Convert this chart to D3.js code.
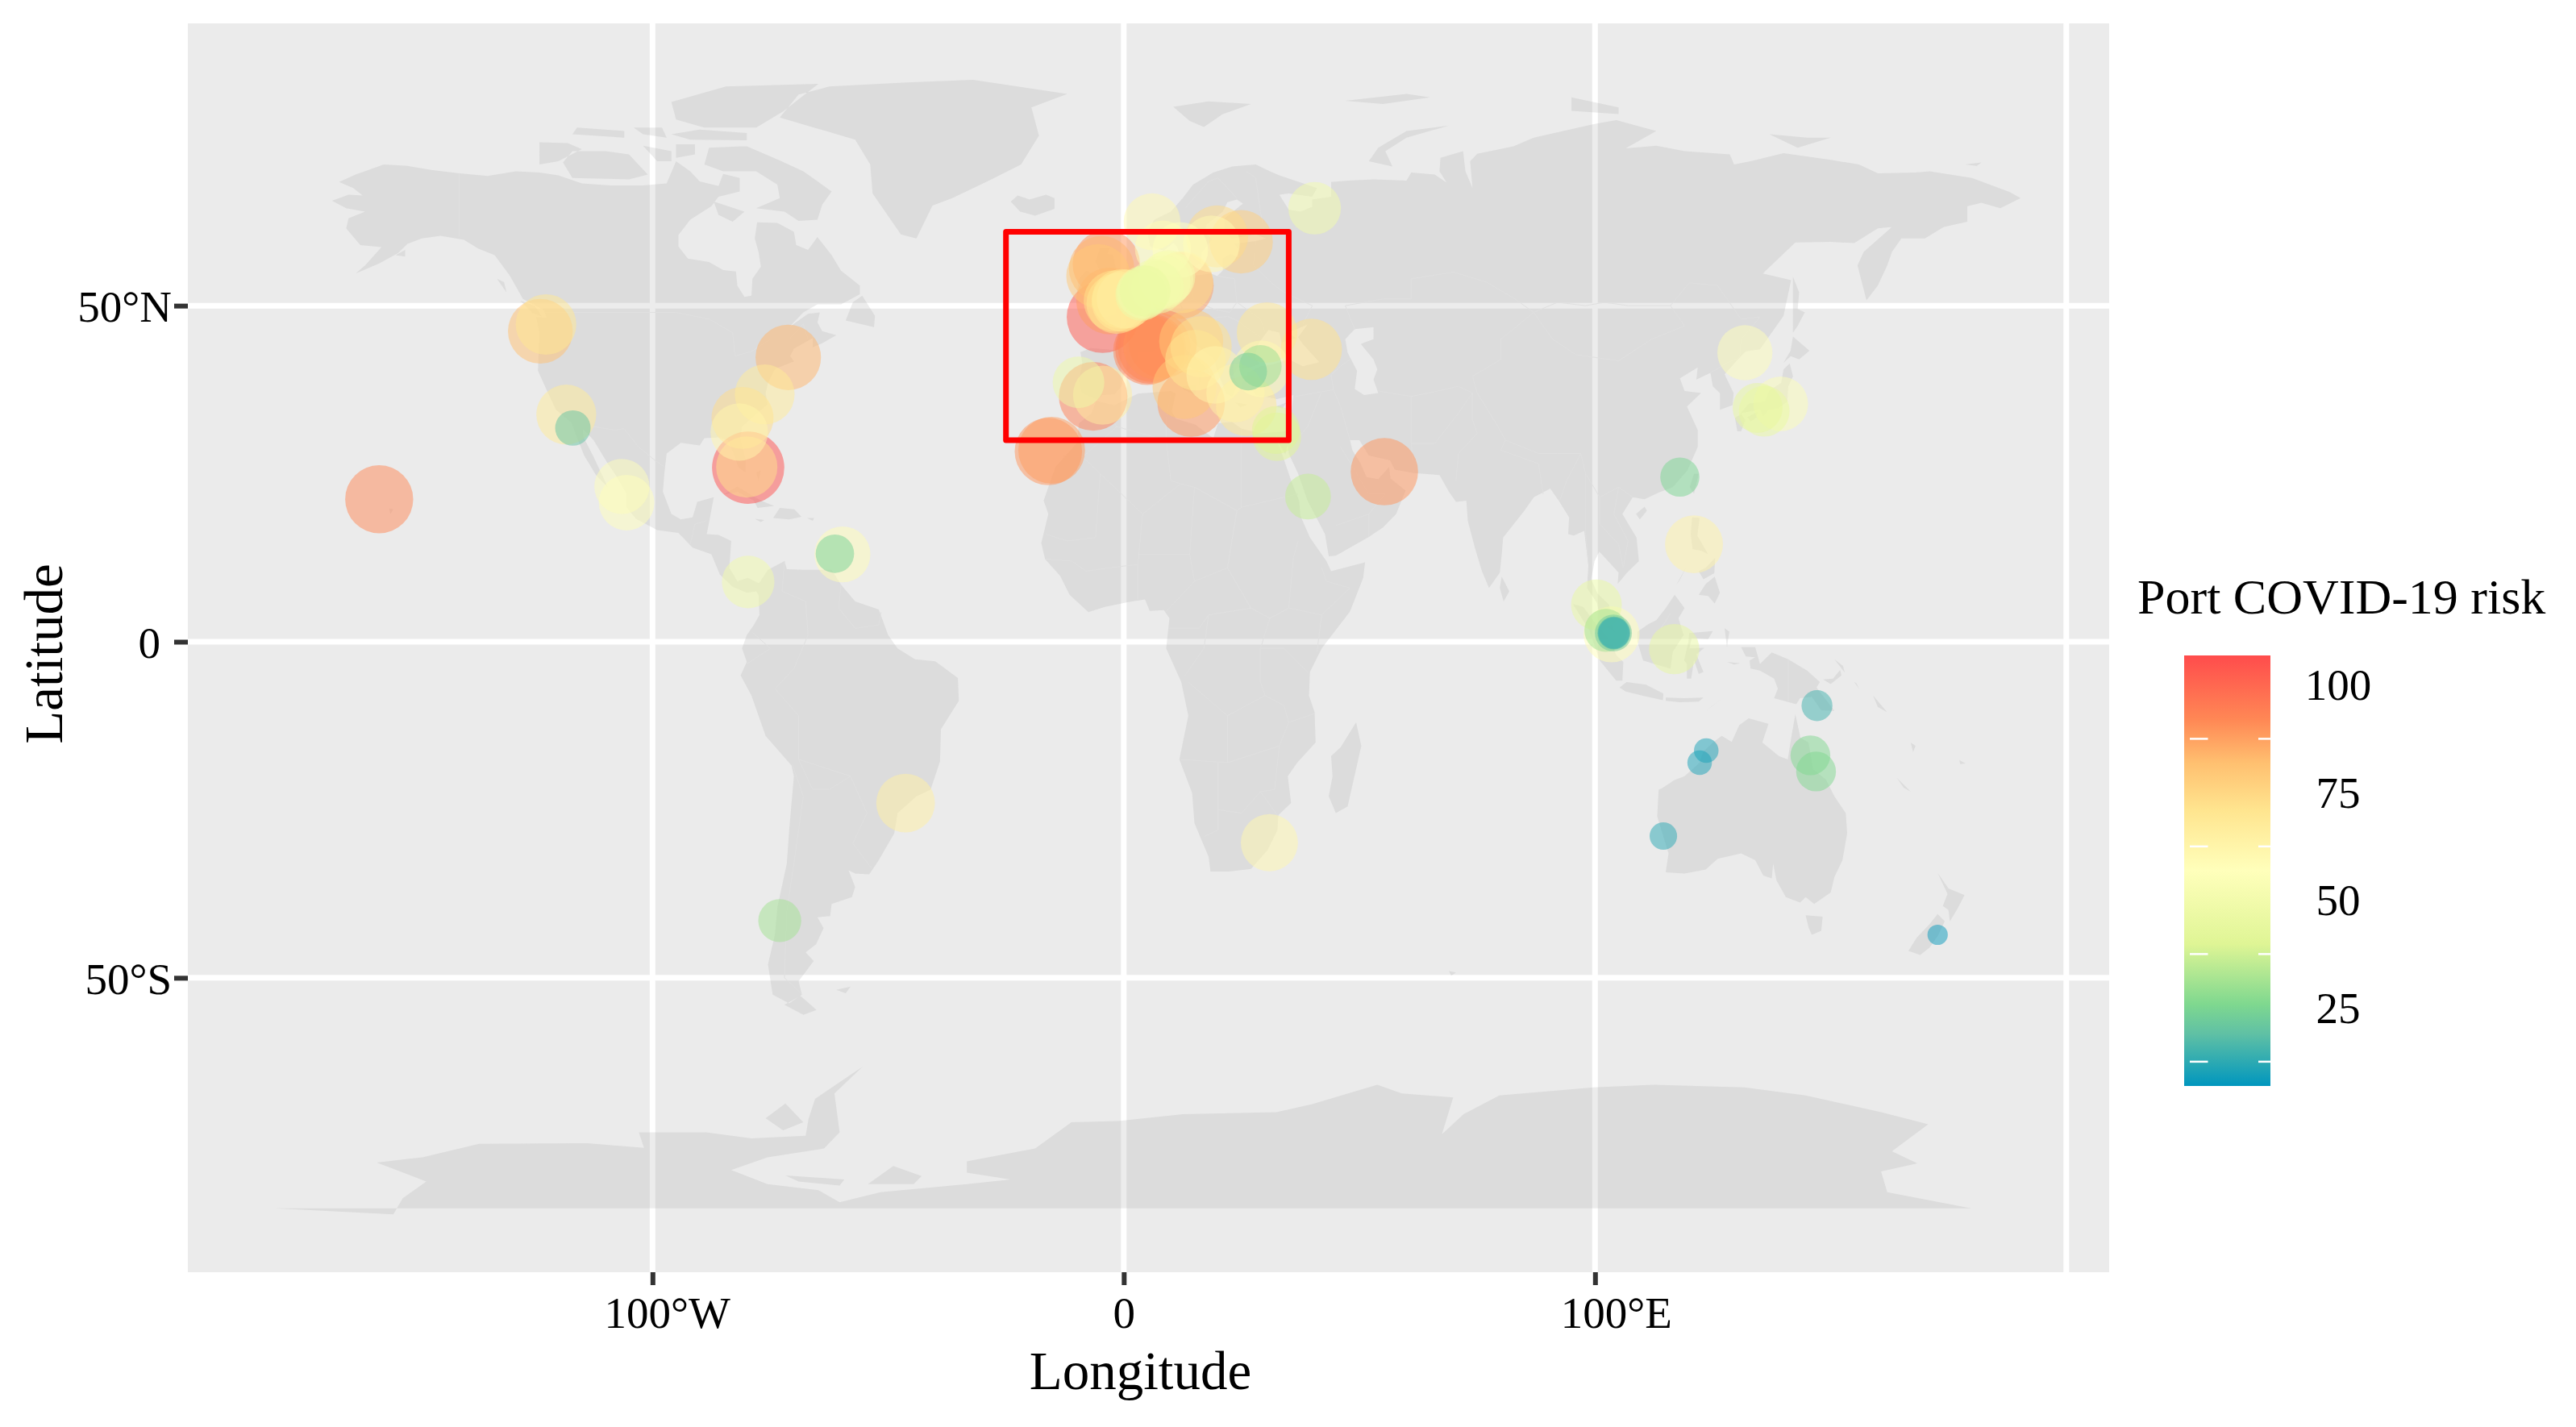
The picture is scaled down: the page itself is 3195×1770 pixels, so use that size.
<!DOCTYPE html>
<html lang="en">
<head>
  <meta charset="UTF-8">
  <title>Port COVID-19 risk</title>
  <style>
    html, body { margin: 0; padding: 0; background: #fff; }
    svg { display: block; }
    text { font-family: "Liberation Serif", serif; fill: #000; }
  </style>
</head>
<body>
  <svg id="chart"></svg>
  <script src="https://d3js.org/d3.v7.min.js"></script>
  <script>
    var portLon = [-79.7,-4.5,5.5,-6.5,8.3,-158,-16,14.3,-3,12,-15.3,55.3,-3.7,-71.2,-4.7,-123.8,-5.4,14.3,12.9,24.9,19.8,12.4,-80.9,-80,39.8,16.4,-2,-122.6,30.4,15.2,26,-118.3,-76.2,-4.5,-0.4,-46.3,23.7,121,19.4,-81.6,30.9,6,29.2,18.6,-59.7,8.3,12,-105.5,-106.5,131.8,139.4,9.5,103.5,4.3,7.2,-79.7,40.5,-9.6,100.3,135.9,116.8,134.5,32.5,39.1,-73,29,102.3,145.7,146.9,118,-61.3,26.4,-116.9,103.9,147.1,114.5,123.6,122.2,172.7,-1.5,-0.5,0.5,4,3.7,4.5,8.5,9,6.5,6,7,5,104,104,104,32.3];
    var portLat = [25.9,48.3,43.5,36.5,44.3,21.2,28.3,35.5,50.7,53,28.5,25.3,56.2,42.3,55.5,46.2,54.4,44.7,37.9,59.5,60.3,53.5,33.3,26,43.5,43.9,50.7,47.2,46,41.9,35.1,33.8,36.8,36.7,51,-24,37,14.5,39.7,31.2,-29.9,62.5,40.6,59.2,13,58.5,58.3,20.7,23.1,43,35.4,54.3,1.1,51.9,52.7,8.9,64.5,38.6,5.5,34.3,-1.1,34.8,30.5,21.6,-41.5,41,1.7,-16.9,-19.3,24.5,13.1,40.2,31.8,1.3,-9.5,-28.9,-16.2,-18,-43.6,50.3,50.6,51,52,51.6,52.2,53.5,54,53,43.7,44,43.3,1.3,1.3,1.3,31.5];
    var portRisk = [106,104,95,94,92,92,90,90,88,88,88,90,90,84,84,82,80,80,80,78,74,74,74,72,72,72,72,70,70,70,70,68,68,66,68,65,64,63,62,62,61,60,60,60,58,58,57,57,56,56,55,52,58,50,50,50,50,48,46,46,45,44,41,36,31,30,31,26,26,25,24,23,20,22,15,12,10,10,8,70,68,66,50,48,46,52,54,50,92,90,93,17,16,15,40];

    var lonTicks = [-100, 0, 100];
    var lonLabels = ["100°W", "0", "100°E"];
    var latTicks = [-50, 0, 50];
    var latLabels = ["50°S", "0", "50°N"];
    var lonGrid = [-100, 0, 100, 200];

    var legendTicks = [25, 50, 75, 100];
    var colorValues = [7, 19, 26, 40, 57, 71, 82, 92, 107];
    var colorHex = ["#0096be", "#5fc0a5", "#7fd88f", "#dff595", "#ffffbb", "#ffe58f", "#ffc070", "#ff8855", "#ff4c4c"];

    // the red box around Europe
    var boxLon = [-25, 35];
    var boxLat = [30, 61];

    // land outlines as [lon, lat], rough tracing of the world map
    var northAmerica = [[-168,65.6],[-164.5,66.5],[-161.5,66.4],[-163.5,67.5],[-166.5,68.4],[-163,69.5],[-157,71],[-152,70.8],[-147,70.2],[-141,69.7],[-135,69.3],[-129,70],[-124,69.8],[-120,69.4],[-115,68.2],[-109,67.9],[-102,67.9],[-97,68.2],[-95,71.5],[-92,70],[-90,68.5],[-86,67.8],[-85,69.6],[-81.5,69],[-81.5,67],[-86,66.2],[-87.5,64.8],[-92,62.8],[-94.5,60.5],[-94.5,58.8],[-92.5,57],[-88,56.5],[-85,55.3],[-82.3,55.1],[-82,53],[-80.5,51.3],[-79,51.5],[-78.8,54],[-77,55.8],[-77.5,58],[-78.3,60],[-77.8,62.4],[-73.5,62.3],[-70,61],[-69.5,59],[-67,58.3],[-65,60.2],[-62,57.5],[-60,55.2],[-56,53],[-56,51.7],[-60,50.2],[-65,50.2],[-68,49],[-71,46.8],[-67,48.8],[-64.5,49],[-65,47.5],[-64,46.2],[-61,45.6],[-64,44.4],[-66,43.8],[-66,45.2],[-67.5,44.6],[-70,43.6],[-70.8,42.5],[-70,41.7],[-74,40.6],[-75.5,38.5],[-76,37],[-75.6,35.3],[-78,33.9],[-81,32],[-81.4,30.4],[-80.2,27],[-80.3,25.2],[-81.8,26],[-82.8,28],[-84,30],[-86,30.4],[-89,30.3],[-90,29.2],[-94,29.6],[-97,28],[-97.5,25],[-97.8,22.3],[-96,19],[-94,18.2],[-91.5,18.5],[-90.5,20.8],[-87,21.5],[-87.8,18.5],[-88.5,16],[-86,15.9],[-83.3,15],[-83.7,11],[-82,9],[-79.8,9.5],[-77.4,8.7],[-78,7.5],[-80,7.3],[-83,8.2],[-85.7,10],[-87.5,13],[-91.5,14],[-94.5,16.2],[-99,16.6],[-103.5,18.3],[-105.5,20],[-105.5,22],[-108,25],[-109.5,26.5],[-112.5,30],[-114.8,31.7],[-114.7,30.5],[-112.5,27.5],[-110.5,24.5],[-109.5,23],[-112,24.8],[-114.5,27.7],[-115.8,30],[-117.2,32.6],[-120.5,34.5],[-122.5,37.5],[-124.3,40.3],[-124,46],[-124.7,48.3],[-122.5,48.2],[-123,49.3],[-127.5,51],[-130.3,54.5],[-133.5,57.5],[-137,58.5],[-140,59.8],[-145,60.4],[-149,60],[-152,59.2],[-154,57.8],[-158,56.3],[-163,54.8],[-161,56],[-157.5,58.7],[-162,59],[-165,61.5],[-164.5,63],[-161,64],[-165,64.5]];
    var southAmerica = [[-77.4,8.7],[-75.5,10.7],[-72,12],[-71.5,10.8],[-68,10.7],[-62,10.7],[-60,8.5],[-57,6],[-52,4.8],[-50,1],[-48,-1],[-44.3,-2.6],[-40,-2.9],[-35.2,-5.4],[-35,-8.8],[-38.8,-13],[-39,-17.8],[-41,-22],[-44,-23],[-48,-25.5],[-48.7,-28.5],[-52,-32.5],[-54,-34.6],[-57,-34.5],[-58.4,-34],[-57,-36.5],[-57.7,-38],[-62,-39],[-62.3,-40.8],[-65,-41],[-63.7,-42.6],[-65.3,-45],[-67.5,-46.2],[-65.8,-47.5],[-69,-50.5],[-68.3,-52.5],[-71,-53.8],[-74.5,-52.5],[-75.5,-48],[-74,-43.5],[-73.5,-39.5],[-71.5,-33],[-71,-28],[-70,-20],[-70.5,-18.4],[-76,-14],[-79,-8],[-81.3,-5],[-80,-3],[-81,-1],[-80,1],[-78.5,2.5],[-77.3,4],[-77.5,7],[-78,7.5]];
    var eurasia = [[-5.6,36],[-8.9,37],[-9.5,38.8],[-8.8,41.5],[-9.2,43.1],[-7,43.7],[-1.8,43.4],[-1.2,45.5],[-2.5,47.3],[-4.7,48.2],[-1.5,48.7],[-1.8,49.7],[0.2,49.6],[1.6,50.8],[3.5,51.4],[4.7,52.9],[7,53.4],[8.8,54],[8.2,55.5],[8.2,57],[10.6,57.7],[10.3,56],[9.8,54.8],[11,54],[13.5,54.3],[18.5,54.8],[19.8,54.4],[21,55.2],[21,57],[22.6,57.7],[24.3,57.2],[24.3,58.4],[23.5,59.2],[28,59.6],[30.2,60],[28,60.6],[23,60],[21.3,60.8],[21.4,63],[25.3,65.2],[24,65.8],[22,65.4],[21,64],[17.5,62],[17.3,60.7],[18.8,59.9],[16.6,58],[16.3,56.3],[14.3,55.5],[12.8,55.5],[12.4,56.5],[11.3,58.8],[10.5,59.3],[8.5,58.2],[5.6,58.8],[5,61],[6.5,62.8],[10,64],[12.5,66],[14.7,68],[19,69.8],[23,70.7],[28,71],[31,70],[33,69.4],[41,67.5],[40,66.2],[35,66.7],[33,66.5],[35,64.3],[37.5,64],[40,64.7],[40,65.8],[44,66.2],[44,68.4],[47.7,68.6],[53,68.8],[60,68.6],[61,69.8],[66,69.5],[68.5,68.3],[67,70],[67.2,72],[72,73],[72.5,70],[74,67.5],[73.5,71.5],[75,72.6],[82.7,73.7],[87,75],[99.7,77],[104.5,77.6],[113,76],[106.5,73.4],[113,73.8],[119,73],[128.6,72.5],[129.5,71],[133,71.5],[140,72.7],[150,71.7],[156,71],[160,69.7],[168,69.8],[171,70],[180,69],[188,66.9],[190.3,66],[186,64.5],[182,65.3],[179,64.8],[179,62.5],[174,61.7],[170,60],[165,60],[163,58],[162,56],[160,53],[157.6,50.8],[155.7,56],[157,58],[163,61.7],[160,61.5],[155,59.3],[150,59.5],[142.5,59.4],[135.6,54.8],[141.6,53.8],[140,48.5],[135,43.5],[132,43.2],[130.7,42.3],[127.5,39.8],[129.4,37],[129.2,35.2],[126.5,34.5],[126.5,37],[125,38],[124.5,40],[121.5,39],[121.8,40.8],[118,39.2],[119,37.3],[122.5,37],[119.5,35],[121.8,31.5],[121.8,29],[119.6,25.5],[116.5,23],[113.5,22.2],[110.5,21.2],[108,21.5],[105.8,19],[108.8,15.5],[109.3,12],[106.8,10.3],[104.8,8.6],[105,10.3],[102.5,12.2],[100.9,13.4],[99.9,12],[99.2,9.3],[100.5,7.2],[103,5.5],[103.4,2.8],[104.2,1.4],[101.3,2.9],[100.4,5.8],[98.3,8],[98.6,11.5],[97.7,16.5],[95.5,15.8],[94.3,16],[94.5,18.5],[92.3,21],[90.5,22.8],[87,21.5],[85,19.5],[80.5,15.5],[80.2,13],[79.8,10.3],[77.5,8],[76,10.5],[74.5,14],[73,18],[72.7,21],[70.5,20.8],[69,22.3],[67,24.8],[61.5,25.1],[57.5,25.6],[56.5,27],[52,27.7],[50,30],[48,30],[48.5,28.5],[50.2,26.6],[51.5,24.5],[54,24.2],[56.3,26],[56.6,24.3],[59.8,22.5],[57.8,19],[55,17],[52,15.6],[45,12.8],[43.5,12.7],[42.7,16],[39,21],[37,25],[35,28],[34.8,29.5],[34.3,27.9],[32.6,29.9],[32.3,31.2],[34.3,31.3],[35.5,33.5],[36,36.7],[32.5,36.1],[30.5,36.4],[28,36.7],[26.4,38.5],[26.3,40],[29,41],[31.3,41.2],[35,42],[38,41],[41.5,41.6],[38,44.3],[37,45.3],[39,47.2],[35,46],[36.5,45.2],[33.5,44.5],[33,46],[30.7,46.4],[28.7,44.5],[27.7,42.5],[28.8,41.3],[26.2,40.7],[24,40.8],[23.5,39.9],[22.8,39.5],[24,38],[23,36.5],[21.7,36.9],[19.5,41],[19.3,42],[15.2,44.2],[13.7,45.6],[12.3,45.3],[12.5,44],[16,41.8],[18.4,40],[16.7,39.8],[16,38],[15.8,40],[12.2,41.8],[10.2,43.8],[8.5,44.3],[6,43.1],[3.1,43.1],[3,41.8],[0,39.8],[-0.5,38],[-2,36.8],[-4.5,36.7]];
    var africa = [[-5.9,35.8],[-2,35.2],[3,36.9],[10,37.3],[11,36.9],[10.2,34.3],[11,33.2],[15.2,32.3],[19,30.3],[20,32.5],[23,32.7],[25,31.7],[29,31],[32.3,31.2],[32.5,29.9],[33.8,27.5],[35.5,24],[37.2,21],[37.5,18.7],[39.5,15.5],[43,12],[44,10.5],[51.2,11.8],[50.8,9.5],[48,4.5],[42,-1],[39.5,-4.5],[39.3,-8],[40.5,-10.5],[40.7,-15],[36.8,-18],[34.8,-20],[35.5,-24],[32.8,-25.8],[32.6,-28],[30.5,-31],[27,-33.8],[22,-34.2],[18.4,-34.2],[18,-32],[15,-27],[14.5,-22.5],[11.8,-17.5],[13.7,-11],[12.2,-6],[9,-1],[9.7,3.5],[8.5,4.7],[5.5,4.6],[4.5,6.3],[1,5.9],[-4,5.2],[-7.5,4.4],[-11.5,7],[-13.5,9.8],[-16.7,12.3],[-17.5,14.7],[-16,19],[-17,21],[-14.5,26],[-10,29.5],[-9.5,32.5],[-6.8,34]];
    var australia = [[113.5,-22],[114.2,-21.8],[116.8,-20.6],[119,-20],[122.2,-18],[122.9,-16.4],[125,-15],[126.9,-14],[129,-14.9],[130.6,-12.4],[132.6,-11.4],[136.8,-12.2],[135.5,-15],[139,-17],[140.9,-17.5],[141.7,-14],[142.5,-10.8],[143.6,-14.3],[145.3,-15],[146.3,-19],[149,-20.5],[150.8,-23],[153.2,-25.5],[153.5,-28.5],[152.5,-32.5],[150.8,-35],[150,-37.3],[146.5,-39],[144.7,-38],[143.5,-38.8],[140.5,-38],[138.5,-35.5],[137.8,-33],[137.5,-35.2],[135.7,-34.8],[134,-32.5],[131,-31.5],[126,-32.3],[123.5,-33.9],[119,-34.5],[115,-34.3],[115.6,-31.5],[113.2,-26]];
    var antarctica = [[-180,-84.3],[-155,-85.2],[-153,-82.8],[-148,-80.3],[-158.5,-77.5],[-148.8,-76.7],[-136.8,-74.7],[-113.9,-74.6],[-101.8,-75.3],[-102.9,-73],[-88.7,-73],[-79,-73.9],[-67.5,-73.5],[-66.9,-71],[-65.5,-68],[-55.4,-63.2],[-61.4,-67.2],[-60.3,-73],[-63.6,-75.4],[-75.6,-76.7],[-83.3,-78.6],[-75.6,-80.7],[-64.8,-81.6],[-60.3,-83.4],[-51.6,-81.9],[-33.3,-80.7],[-24,-80],[-33.3,-79],[-33.3,-77.3],[-18.8,-75.4],[-11.1,-71.5],[-1.2,-71.3],[12.6,-70.3],[32.4,-70],[40,-68.8],[53.8,-65.9],[59,-67.2],[69.9,-67.8],[67.5,-73.3],[72.1,-70.3],[79.7,-67.5],[99.7,-66.3],[112.6,-65.9],[131.7,-66.3],[144.7,-67.5],[160.7,-70],[170.7,-71.8],[163,-75.8],[168.4,-77.6],[160.7,-78.8],[162,-81.9],[179.8,-84.3]];
    var greenland = [[-46,83.2],[-32,83.6],[-12,81.5],[-19.6,79.5],[-18,75.3],[-21.8,71],[-28.6,68.6],[-36.4,66],[-40.6,64.9],[-44,60],[-47.3,60.6],[-53.3,66.7],[-53.8,71],[-57,74.7],[-73,78],[-69,81.4],[-62.5,82.6]];
    var caspian = [[49,46.5],[53,46.8],[53,45],[51,44.5],[50.3,44.3],[53,42],[53.8,40.5],[53,39],[54,37],[51,36.7],[49,37.6],[49.5,40.3],[47.5,43],[47,45]];
    var islands = [
      [[-80,73.7],[-73,71.6],[-68,70],[-62,67],[-64,65],[-65,62.8],[-69,62.6],[-72,64],[-78,64.5],[-73,66],[-73.5,68],[-78,70],[-85,70],[-89,71],[-88,73.5],[-81,73.7]],
      [[-96,80.3],[-84.4,82.6],[-64.8,83],[-72.3,78.9],[-78,76.5],[-89,76.5],[-95,77.7]],
      [[-96,75.5],[-92,74.7],[-80,74.6],[-80,75.7],[-90,76.2]],
      [[-117,69],[-105,68.8],[-101,69.5],[-105,72.5],[-110,73],[-117,73],[-119,71.3]],
      [[-124,74.3],[-118,74.2],[-115,73.3],[-120,71.5],[-124,71]],
      [[-117,75.5],[-106,75],[-106,76],[-116,76.5]],
      [[-102,73.8],[-96,73],[-96,71.5],[-99,71.5]],
      [[-95,74],[-91,74],[-91,72.5],[-95,72]],
      [[-104,76.5],[-98,76.5],[-97,75],[-102,75.5]],
      [[-87,65.5],[-80.5,64],[-83,62.5],[-86,63.5]],
      [[-59,47.8],[-53,46.8],[-52.8,48.5],[-55.5,51.5],[-57.5,50.5]],
      [[-128,50.7],[-125,50],[-123.5,48.4],[-125.5,48.9]],
      [[-133,54],[-131.5,53.5],[-131,52]],
      [[-154.5,57.5],[-152.5,57.3],[-152.5,58.3]],
      [[-155.9,19.8],[-155,19.7],[-155.6,19]],
      [[-85,21.9],[-82,23.1],[-77,21],[-74.2,20.2],[-77.7,19.9],[-78.5,21],[-82,22.3]],
      [[-74.4,18.4],[-73,19.9],[-69.9,19.7],[-68.4,18.6],[-71,18.2]],
      [[-78.3,18.3],[-76.3,18.1],[-77,17.8]],
      [[-67.2,18.4],[-65.7,18.4],[-66,18]],
      [[-78,25.2],[-77.5,24],[-77,25.5]],
      [[-68.6,-52.7],[-65.2,-54.8],[-68,-55.5],[-72,-54]],
      [[-61,-51.8],[-58,-51.3],[-59,-52.3]],
      [[-5.7,50.1],[-3,50.7],[1.3,51.2],[1.7,52.7],[0,53.3],[-1.7,55.5],[-2.2,57.5],[-3.5,57.7],[-3,58.6],[-5,58.6],[-6,56.6],[-5,55],[-3,54.5],[-3,53.3],[-4.5,53],[-4.5,52],[-5.2,51.8],[-3,51.3],[-5,51]],
      [[-6,52.2],[-10,51.7],[-9.5,54],[-8,55.2],[-5.7,54.6]],
      [[-24,65.5],[-22,64],[-18.8,63.4],[-14.7,64.4],[-14.7,66],[-16.5,66.5],[-20,65.8],[-22.5,66.4]],
      [[11,55.7],[12.5,56],[12.3,55],[11,55]],
      [[12.5,38],[15.6,38.2],[15.1,36.7],[12.5,37.6]],
      [[8.2,41],[9.7,41],[9.6,39.2],[8.5,39]],
      [[8.6,42.5],[9.5,43],[9.4,41.4]],
      [[23.6,35.6],[26.3,35.3],[24.8,34.9]],
      [[32.3,35],[34.5,35.6],[33.7,34.7]],
      [[10.5,79.6],[14,77.5],[17,76.6],[21,78.5],[27,80],[18,80.4]],
      [[52,71.5],[57,70.7],[55.5,73],[60,75],[69,76.8],[60,76],[54,73.5]],
      [[47,80.5],[60,81.5],[65,81],[55,80]],
      [[95,79],[105,78.5],[105,79.5],[95,81]],
      [[137,75.5],[145,75],[150,75],[143,73.5]],
      [[178.5,71],[182,71.3],[181,70.8]],
      [[142,54.3],[143.3,52],[143,49.5],[144.5,49],[143,47],[142,46],[142,50]],
      [[140,41.5],[141.5,42.5],[143.3,42],[145.5,43.3],[142,45.4],[141.5,43.3]],
      [[130.9,34],[132.6,35.4],[136,35.7],[137,37.4],[139.5,38.5],[140,40.5],[141.3,41.4],[142,39.5],[141,38],[140.8,35.7],[138.8,34.7],[136.8,34.5],[135.7,33.5],[135,34.6],[132.5,34.2]],
      [[132.3,33.4],[134.5,34.2],[134.2,33.3],[133,32.8]],
      [[129.7,33.3],[131,33.9],[131.9,33],[131,31.3],[130.2,31.3]],
      [[120.1,23],[121,25],[122,25],[121,22]],
      [[108.7,19],[110.5,20.1],[111,19.5],[109.5,18.2]],
      [[79.8,8],[80.2,9.7],[81.8,7.5],[80.6,6]],
      [[120.3,16],[120.6,18.5],[122.2,18.4],[121.7,15.8],[124,13],[122.7,13.5],[120.7,13.8]],
      [[122,7],[123.5,8.6],[125.4,9.7],[126.5,7.3],[125.4,5.7],[124,6.8]],
      [[122,10.5],[123.5,11],[125.5,12.5],[125.3,10.2],[123,9.3]],
      [[117.2,8.4],[119.5,11.3],[118,9.2]],
      [[109,1.5],[111.3,2.6],[113,3.2],[115,5],[116.9,7],[119,5],[117.7,3.5],[118.8,1],[116.5,-1.5],[116,-4],[113,-3.4],[110.2,-2.8],[109,0]],
      [[95.3,5.6],[97.5,5.2],[100.5,2.3],[103.5,0],[104.5,-2],[106,-3],[105.8,-5.8],[104.5,-5.8],[101,-2.8],[98.8,1.7]],
      [[105.2,-6.8],[106.7,-6],[110.8,-6.4],[114.5,-7.7],[114.4,-8.7],[110,-8],[106.5,-7.4]],
      [[115,-8.3],[119,-8.4],[123,-8.3],[122,-8.9],[118,-9],[115,-8.8]],
      [[123.5,-10.3],[127,-8.4],[125,-9.5]],
      [[120,1.3],[125,1.6],[124,0.4],[120.5,0.5],[120,-1],[123.2,-0.9],[121.5,-1.9],[123,-4.5],[122,-4.8],[121,-2.7],[120.4,-5.5],[119.5,-5.5],[119.5,-3.3],[118.9,-2.8],[119.8,0]],
      [[127.5,2],[128.5,1.5],[128,-0.8]],
      [[128,-3],[130.8,-3.2],[129.5,-3.4]],
      [[131,-0.8],[134,-0.8],[135,-3.3],[137.5,-1.6],[141,-2.6],[145,-4.3],[147.7,-6],[147,-6.8],[150.8,-10.3],[148,-10.2],[146,-8.2],[143.5,-8.4],[142.7,-9.3],[138,-8.4],[138.8,-7],[138,-5.5],[135,-4.3],[133,-4],[132.8,-2.8],[134,-2.3],[132,-2.2]],
      [[148.4,-5.6],[150.5,-5.5],[152,-4.2],[152.3,-5],[150,-6.3]],
      [[150.8,-2.6],[153,-4.6],[152.6,-3.6]],
      [[155,-6],[156,-7],[155.5,-6.2]],
      [[159,-8],[162,-10.5],[160,-9.7]],
      [[164,-20.2],[167,-22.3],[165.5,-21.7]],
      [[167,-15],[167.5,-16.4],[168,-15.5]],
      [[177.3,-17.6],[178.6,-18.1],[177.5,-18.2]],
      [[144.7,-40.7],[148.3,-40.9],[148,-43],[146,-43.6],[145.3,-42.5]],
      [[172.7,-40.5],[174.2,-41.6],[172.8,-43.7],[171,-45.5],[169,-46.6],[166.5,-46],[168.3,-44],[171,-42]],
      [[172.7,-34.4],[175,-36.7],[178.4,-37.7],[177,-39.6],[175.3,-41.6],[175,-39.9],[173.8,-39.3],[174.8,-37.5]],
      [[49.3,-12],[50.4,-15.5],[47.5,-24.5],[45,-25.5],[43.5,-23],[44.3,-20],[44,-17],[46,-15.7]],
      [[69,-49],[70.5,-49.2],[69.5,-49.7]],
      [[-54.3,-80.7],[-48.9,-78],[-42.9,-79.5],[-44.6,-80.7]],
      [[-71.8,-79.4],[-59.3,-80],[-60.3,-80.9],[-69,-80.3]],
      [[-76,-70.9],[-71.8,-68.7],[-68,-71.5],[-72.3,-72.7]]
    ];
    var landRings = [northAmerica, southAmerica, eurasia, africa, australia, antarctica, greenland, caspian].concat(islands);

    // faint country borders
    var borders = [
      [[-141,69.7],[-141,60.3]],
      [[-123,49],[-95,49],[-88,48],[-83,46],[-82.5,42.5],[-79,43.2],[-75,45],[-71,45],[-68,47.3],[-67,45]],
      [[-117,32.5],[-108,31.5],[-106,31.7],[-103,29],[-99.5,27],[-97.3,25.9]],
      [[-92,14.5],[-91,17.5],[-88.5,18]],
      [[-72,12],[-72.5,7.5],[-67.5,6],[-67,1],[-70,-4],[-74,-7],[-69,-11],[-69,-17.5],[-58,-20],[-54.5,-25.5],[-57.5,-30],[-53.5,-33.7]],
      [[-70.3,-18.3],[-68,-23],[-70,-33],[-71.5,-40],[-72,-50],[-68.5,-52.3]],
      [[-60,8.5],[-60.5,5],[-57,2],[-52,2.5],[-51.5,4.4]],
      [[-80,-3.3],[-75,-1],[-78.8,1.4]],
      [[-58,-20],[-62.5,-22],[-66,-22],[-69,-17.5]],
      [[3,42.4],[-1.8,43.4]],
      [[1.6,50.8],[6,49.5],[8,49],[7.5,47.6],[6,46.3],[7.5,43.8]],
      [[7,53.4],[6,51],[3.5,51.4]],
      [[8.8,54.8],[10,54.8]],
      [[7.5,47.6],[13,47.5],[17,48],[22,48.4],[24,47.8],[29,45.3]],
      [[14.3,54],[14.8,51],[12,50.3],[13,48.5]],
      [[19.8,54.4],[23.5,54],[24,50.5],[22.5,49],[19,49.5],[15,50.8]],
      [[28,59.6],[27.5,56],[32,53],[34,52],[40,50],[38,47.2]],
      [[24,50.5],[29,48],[30,46]],
      [[30,60.5],[29,64],[28,69],[26,70]],
      [[20,69],[24,66]],
      [[13,64.5],[18,68.5],[20,69]],
      [[48,42],[46,41],[44,39.7],[44.5,37.5],[42,37.2],[36.5,36.5]],
      [[44.5,37.5],[46,35],[48,30]],
      [[42,37.2],[39,32],[36,29.5]],
      [[46,29],[52,22],[55.5,22],[52,19],[52,15.6]],
      [[45,17.3],[52,19]],
      [[61.5,25.1],[61,29.5],[61,36.5],[54,37.3]],
      [[61,29.5],[66,29.5],[71,34],[74,37],[71,38],[66,37.2],[61,36.5]],
      [[49,46.5],[47,50],[55,51],[61,51],[61,54],[70,55],[77,53.5],[83,51],[87,49]],
      [[87,49],[92,50.5],[98,50],[102,50.5],[107,50],[116,50],[120,53.4],[126,53],[131,48],[135,48.3],[131,45],[130.7,42.3]],
      [[87,49],[91,45],[96,42.7],[105,41.8],[112,45],[119,47],[116,50]],
      [[87,49],[80,45],[80,42],[74,39.5],[75,37],[79,32.5],[81,30],[88,28],[92,28],[97,28],[98,25],[101,21.5],[105,23],[108,21.5]],
      [[74,37],[74,33],[75,31],[71,28],[70.5,24]],
      [[81,30],[80,28.5],[88,26.5],[89,22]],
      [[92.5,21],[94,24],[97,28]],
      [[98,25],[98,20],[98,16],[98.6,11.5]],
      [[101,21.5],[101,17.5],[105,14.5],[106,11]],
      [[105,23],[104,19],[107,15],[106,11]],
      [[124.5,40],[128,41.5],[130.7,42.3]],
      [[-5,35.5],[-1.5,32],[-8.7,27.5],[-13,27.7]],
      [[-1.5,32],[9,30],[9,33],[10,37]],
      [[9,30],[10,24],[12,23.5],[4,19],[-5,25],[-8.7,27.5]],
      [[25,31.7],[25,20],[37,22]],
      [[12,23.5],[15,23],[24,19.5],[25,20]],
      [[15,23],[14,13],[15,9],[9,4.5]],
      [[24,19.5],[22,11],[27,5],[31,3.5],[35,5],[42,4],[41,-1.5]],
      [[22,11],[15,9]],
      [[37,15],[36,12.5],[35,5]],
      [[42,11],[43,9],[48,8],[42,4]],
      [[4,19],[3,11.5],[-3,11],[-8,10.5],[-11,12],[-16.7,12.3]],
      [[-5,25],[-6,15.5],[-12,15],[-16.5,16]],
      [[3,11.5],[3,6.3]],
      [[14,13],[3,13]],
      [[27,5],[18,4],[16,2],[9.5,2]],
      [[18,4],[17,-1],[13,-5]],
      [[31,3.5],[29,-1],[29,-6],[30,-8],[22,-11],[13.7,-6]],
      [[22,-11],[22,-18],[12,-17.5]],
      [[22,-18],[33,-15.5],[35,-12],[40.5,-10.7]],
      [[30,-8],[34,-9.5],[35,-12]],
      [[29,-1],[34,-1],[39,-4.5]],
      [[20,-18],[20,-28],[17,-29]],
      [[20,-25],[25,-25.5],[29,-22.3],[32,-22],[33,-15.5]],
      [[29,-22.3],[32.8,-26]],
      [[141,-2.6],[141,-9]],
      [[114,2],[116,4.2]]
    ];

    // sizes below are pixels of the 3195x1770 picture
    var W = 3195, H = 1770;
    var panel = { left: 233, right: 2616, top: 29, bottom: 1578 };

    var x = d3.scaleLinear().domain([-198.6, 209.1]).range([panel.left, panel.right]);
    var y = d3.scaleLinear().domain([92, -93.8]).range([panel.top, panel.bottom]);
    var color = d3.scaleLinear().domain(colorValues).range(colorHex);
    var riskUnit = d3.scaleLinear().domain([7, 107]).range([0, 1]).clamp(true);
    var radius = d3.scaleLinear().domain([0, 1]).range([9, 45]);
    var legendY = d3.scaleLinear().domain([7, 107]).range([1347, 813]);

    var svg = d3.select("#chart").attr("width", W).attr("height", H);

    svg.append("rect")
      .attr("x", panel.left).attr("y", panel.top)
      .attr("width", panel.right - panel.left).attr("height", panel.bottom - panel.top)
      .attr("fill", "#ebebeb");

    // grid
    svg.append("g").selectAll("line").data(lonGrid).enter().append("line")
      .attr("x1", d => x(d)).attr("x2", d => x(d))
      .attr("y1", panel.top).attr("y2", panel.bottom)
      .attr("stroke", "#fff").attr("stroke-width", 7);
    svg.append("g").selectAll("line").data(latTicks).enter().append("line")
      .attr("x1", panel.left).attr("x2", panel.right)
      .attr("y1", d => y(d)).attr("y2", d => y(d))
      .attr("stroke", "#fff").attr("stroke-width", 7);

    // land
    var ring = d3.line().x(d => x(d[0])).y(d => y(d[1])).curve(d3.curveLinearClosed);
    svg.append("path")
      .attr("d", landRings.map(r => ring(r)).join(" "))
      .attr("fill", "#a0a0a0").attr("fill-opacity", 0.2).attr("fill-rule", "evenodd");

    var border = d3.line().x(d => x(d[0])).y(d => y(d[1]));
    svg.append("path")
      .attr("d", borders.map(b => border(b)).join(" "))
      .attr("fill", "none").attr("stroke", "#e0e0e0").attr("stroke-width", 1);

    // ports, highest risk first so the low risk ones end up on top
    var portOrder = d3.range(portRisk.length).sort((a, b) => d3.descending(portRisk[a], portRisk[b]));
    svg.append("g").selectAll("circle").data(portOrder).enter().append("circle")
      .attr("cx", i => x(portLon[i]))
      .attr("cy", i => y(portLat[i]))
      .attr("r", i => radius(Math.sqrt(riskUnit(portRisk[i]))))
      .attr("fill", i => color(portRisk[i]))
      .attr("fill-opacity", 0.5);

    // box
    svg.append("rect")
      .attr("x", x(boxLon[0])).attr("y", y(boxLat[1]))
      .attr("width", x(boxLon[1]) - x(boxLon[0]))
      .attr("height", y(boxLat[0]) - y(boxLat[1]))
      .attr("fill", "none").attr("stroke", "#ff0000").attr("stroke-width", 7)
      .attr("stroke-linejoin", "round");

    // axes
    var xAxis = d3.axisBottom(x).tickValues(lonTicks).tickSize(16)
      .tickFormat((d, i) => lonLabels[i]);
    var gx = svg.append("g").attr("transform", "translate(0," + panel.bottom + ")").call(xAxis);
    gx.select(".domain").remove();
    gx.selectAll("line").attr("stroke", "#333").attr("stroke-width", 6);
    var xLabelShift = [18, 0, 26];
    gx.selectAll("text")
      .attr("font-family", "Liberation Serif").attr("font-size", 55).attr("fill", "#000")
      .attr("y", 69).attr("dy", 0)
      .attr("x", (d, i) => xLabelShift[i]);

    var yAxis = d3.axisLeft(y).tickValues(latTicks).tickSize(17)
      .tickFormat((d, i) => latLabels[i]);
    var gy = svg.append("g").attr("transform", "translate(" + panel.left + ",0)").call(yAxis);
    gy.select(".domain").remove();
    gy.selectAll("line").attr("stroke", "#333").attr("stroke-width", 6);
    var yLabelShift = [-20, -34, -20];
    gy.selectAll("text")
      .attr("font-family", "Liberation Serif").attr("font-size", 55).attr("fill", "#000")
      .attr("dy", 0).attr("y", 19.5)
      .attr("x", (d, i) => yLabelShift[i]);

    svg.append("text").attr("x", 1414.5).attr("y", 1722.5)
      .attr("text-anchor", "middle").attr("font-size", 67).text("Longitude");
    svg.append("text").attr("transform", "translate(77,811) rotate(-90)")
      .attr("text-anchor", "middle").attr("font-size", 67).text("Latitude");

    // legend
    svg.append("text").attr("x", 2651).attr("y", 761)
      .attr("font-size", 62).text("Port COVID-19 risk");

    var grad = svg.append("defs").append("linearGradient")
      .attr("id", "riskGrad").attr("x1", 0).attr("x2", 0).attr("y1", 1).attr("y2", 0);
    grad.selectAll("stop").data(colorValues).enter().append("stop")
      .attr("offset", d => riskUnit(d))
      .attr("stop-color", d => color(d));

    svg.append("rect")
      .attr("x", 2709).attr("width", 107)
      .attr("y", legendY(107)).attr("height", legendY(7) - legendY(107))
      .attr("fill", "url(#riskGrad)");

    // the tick marks sit lower than their labels in the original
    var legendG = svg.append("g");
    legendG.selectAll("line.l").data(legendTicks).enter().append("line")
      .attr("class", "l")
      .attr("x1", 2716).attr("x2", 2738.5)
      .attr("y1", d => legendY(d) + 66).attr("y2", d => legendY(d) + 66)
      .attr("stroke", "#fff").attr("stroke-width", 2.5);
    legendG.selectAll("line.r").data(legendTicks).enter().append("line")
      .attr("class", "r")
      .attr("x1", 2801).attr("x2", 2816)
      .attr("y1", d => legendY(d) + 66).attr("y2", d => legendY(d) + 66)
      .attr("stroke", "#fff").attr("stroke-width", 2.5);
    legendG.selectAll("text").data(legendTicks).enter().append("text")
      .attr("x", 2900).attr("y", d => legendY(d) + 18)
      .attr("text-anchor", "middle").attr("font-size", 55)
      .text(d => d);
  </script>
</body>
</html>
